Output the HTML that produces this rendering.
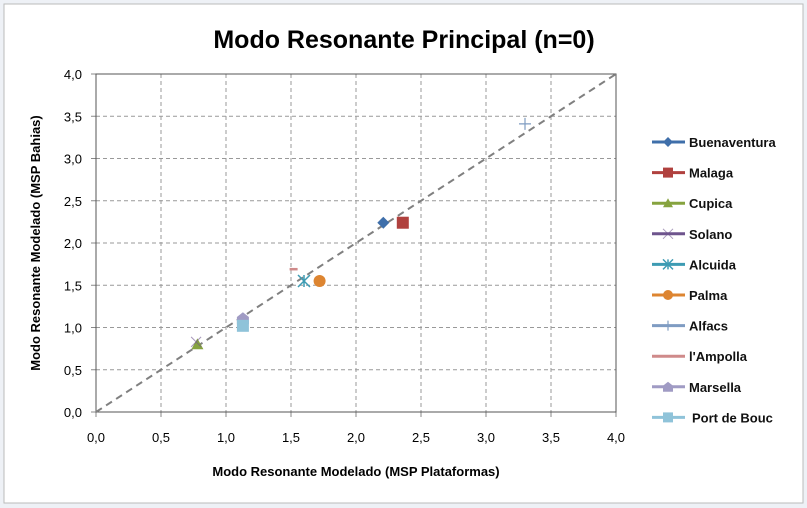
<!DOCTYPE html>
<html><head><meta charset="utf-8"><style>
body{margin:0;background:#eef1f6;}
svg{display:block;font-family:"Liberation Sans",sans-serif;}
</style></head><body>
<svg id="c" width="807" height="508">
<rect x="4" y="4" width="799" height="499" fill="#fff" stroke="#bbb"/>
<text x="404" y="48" text-anchor="middle" font-size="25" font-weight="bold">Modo Resonante Principal (n=0)</text>
<g id="grid"></g>
<g id="marks"></g>
<text x="356" y="476" text-anchor="middle" font-size="13" font-weight="bold">Modo Resonante Modelado (MSP Plataformas)</text>
<text transform="translate(40,243) rotate(-90)" text-anchor="middle" font-size="13" font-weight="bold">Modo Resonante Modelado (MSP Bahias)</text>
<g id="legend"></g>
</svg>
<script>
const names=["Buenaventura","Malaga","Cupica","Solano","Alcuida","Palma","Alfacs","l'Ampolla","Marsella","Port de Bouc"];
const xVals=[2.21,2.36,0.78,0.77,1.60,1.72,3.30,1.52,1.13,1.13];
const yVals=[2.24,2.24,0.80,0.83,1.55,1.55,3.41,1.69,1.11,1.02];
const ticks=[0,0.5,1,1.5,2,2.5,3,3.5,4];
const colors=["#3f6faa","#b0413e","#86a33f","#6e548d","#3d9bb3","#dd8531","#7f9cc2","#cf8a8a","#a09bc4","#8fc3d9"];
const shapes=["diamond","square","triangle","x","star","circle","plus","dash","house","square"];
const NS="http://www.w3.org/2000/svg";
const X0=96,X1=616,Y0=412,Y1=74;
const sx=v=>X0+(X1-X0)*v/4, sy=v=>Y0-(Y0-Y1)*v/4;
function el(t,a,p){const e=document.createElementNS(NS,t);for(const k in a)e.setAttribute(k,a[k]);p.appendChild(e);return e;}
const g=document.getElementById('grid');
ticks.forEach((t,i)=>{
 if(i>0){const l=el('line',{x1:sx(t),x2:sx(t),y1:Y1,y2:Y0,stroke:'#999','stroke-dasharray':'4,3'},g);
 
 const h=el('line',{x1:X0,x2:X1,y1:sy(t),y2:sy(t),stroke:'#999','stroke-dasharray':'4,3'},g);
 }
 const lab=t.toFixed(1).replace('.',',');
 const a=el('text',{x:sx(t),y:Y0+30,'text-anchor':'middle','font-size':13},g);a.textContent=lab;
 
 const b=el('text',{x:X0-14,y:sy(t)+5,'text-anchor':'end','font-size':13},g);b.textContent=lab;
 
 el('line',{x1:sx(t),x2:sx(t),y1:Y0,y2:Y0+5,stroke:'#888'},g);
 el('line',{x1:X0-5,x2:X0,y1:sy(t),y2:sy(t),stroke:'#888'},g);
});
const pa=el('rect',{x:X0,y:Y1,width:X1-X0,height:Y0-Y1,fill:'none',stroke:'#555'},g);

const d=el('line',{x1:sx(0),y1:sy(0),x2:sx(4),y2:sy(4),stroke:'#808080','stroke-width':2,'stroke-dasharray':'7,5'},g);

function marker(s,x,y,c,p,r){
 r=r||6;let e;
 if(s=="diamond")e=el('path',{d:`M${x} ${y-r}L${x+r} ${y}L${x} ${y+r}L${x-r} ${y}Z`,fill:c},p);
 else if(s=="square")e=el('rect',{x:x-r,y:y-r,width:2*r,height:2*r,fill:c},p);
 else if(s=="triangle")e=el('path',{d:`M${x} ${y-r}L${x+r} ${y+r*0.8}L${x-r} ${y+r*0.8}Z`,fill:c},p);
 else if(s=="circle")e=el('circle',{cx:x,cy:y,r:r,fill:c},p);
 else if(s=="x")e=el('path',{d:`M${x-r} ${y-r}L${x+r} ${y+r}M${x-r} ${y+r}L${x+r} ${y-r}`,stroke:c,'stroke-width':1,opacity:0.6},p);
 else if(s=="star")e=el('path',{d:`M${x-r} ${y-r}L${x+r} ${y+r}M${x-r} ${y+r}L${x+r} ${y-r}M${x} ${y-r}L${x} ${y+r}`,stroke:c,'stroke-width':1.5},p);
 else if(s=="plus")e=el('path',{d:`M${x-r} ${y}L${x+r} ${y}M${x} ${y-r}L${x} ${y+r}`,stroke:c,'stroke-width':1.2},p);
 else if(s=="dash")e=el('path',{d:`M${x-4} ${y}L${x+4} ${y}`,stroke:c,'stroke-width':2.5},p);
 else e=el('path',{d:`M${x-r} ${y-r*0.2}L${x} ${y-r}L${x+r} ${y-r*0.2}L${x+r} ${y+r}L${x-r} ${y+r}Z`,fill:c},p);
 return e;
}
const m=document.getElementById('marks');
names.forEach((n,i)=>{
 const e=marker(shapes[i],sx(xVals[i]),sy(yVals[i]),colors[i],m,i==3?5:6);
 
 
});
const lg=document.getElementById('legend');
names.forEach((n,i)=>{
 const y=142+i*30.6;
 const gg=el('g',{},lg);
 
 
 el('line',{x1:652,x2:685,y1:y,y2:y,stroke:colors[i],'stroke-width':3},gg);
 if(shapes[i]!="dash")marker(shapes[i],668,y,colors[i],gg,5);
 const t=el('text',{x:i==9?692:689,y:y+5,'font-size':13,'font-weight':'bold',fill:'#111'},gg);t.textContent=n;
});
</script>
</body></html>
